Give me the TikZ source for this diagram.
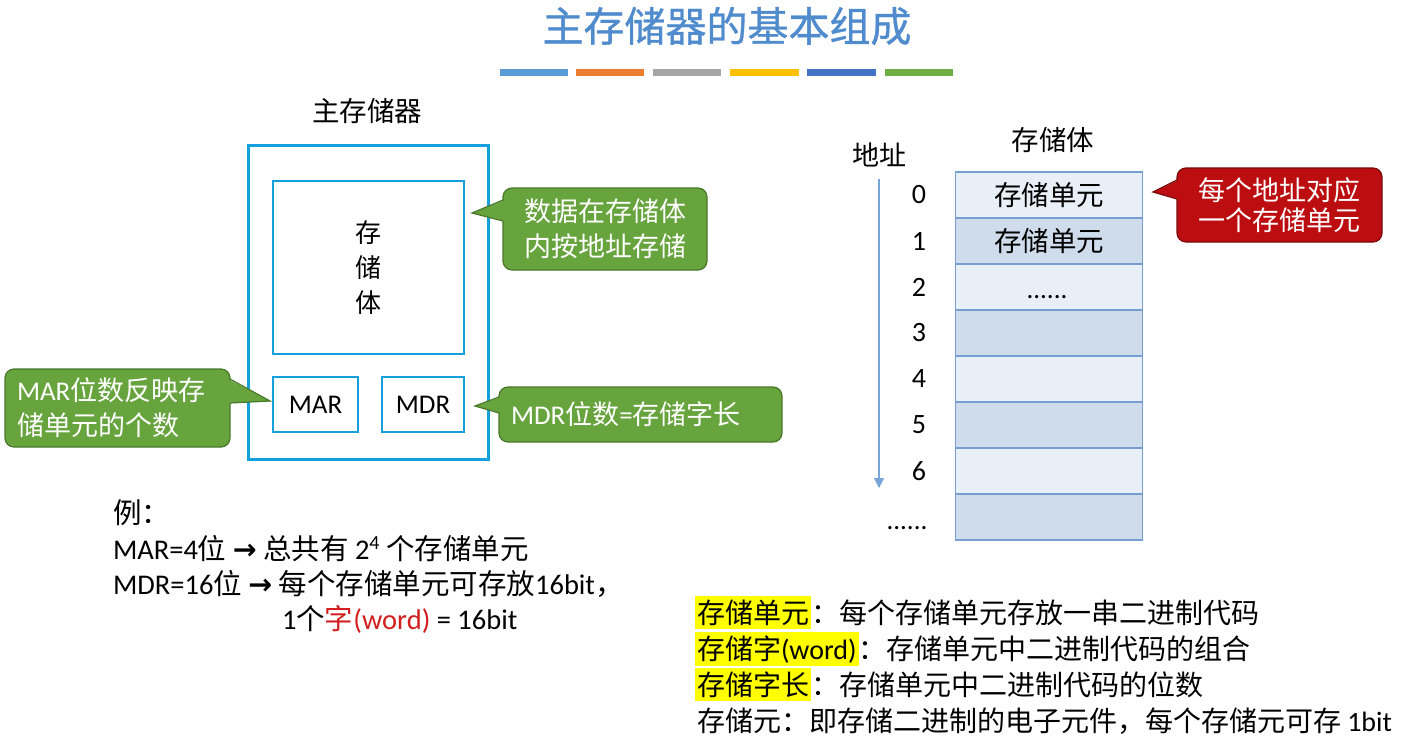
\documentclass[tikz,border=0pt]{standalone}
\usepackage{fontspec}
\setmainfont{Noto Sans CJK SC}
\newfontfamily\titlefont{Noto Sans CJK SC}[FakeBold=0.8]
\newfontfamily\lat{Carlito}
\newfontfamily\sym{DejaVu Sans}
\usetikzlibrary{arrows.meta}

\definecolor{titleblue}{RGB}{79,139,205}
\definecolor{boxblue}{RGB}{20,160,222}
\definecolor{callgreen}{RGB}{104,164,62}
\definecolor{callgreenline}{RGB}{72,120,42}
\definecolor{callred}{RGB}{188,14,16}
\definecolor{callredline}{RGB}{120,10,10}
\definecolor{cellline}{RGB}{118,158,210}
\definecolor{celllight}{RGB}{233,239,247}
\definecolor{celldark}{RGB}{207,220,236}
\definecolor{addrarrow}{RGB}{120,165,215}
\definecolor{hlyellow}{RGB}{255,255,0}
\definecolor{wordred}{RGB}{210,30,30}
\definecolor{barA}{RGB}{91,155,213}
\definecolor{barB}{RGB}{237,125,49}
\definecolor{barC}{RGB}{165,165,165}
\definecolor{barD}{RGB}{255,192,0}
\definecolor{barE}{RGB}{68,114,196}
\definecolor{barF}{RGB}{112,173,71}

\newcommand\fsz[1]{\fontsize{#1}{#1}\selectfont}

\tikzset{
  plain/.style={inner sep=0pt, outer sep=0pt},
  outerbox/.style={plain, draw=boxblue, line width=3pt},
  bluebox/.style={plain, draw=boxblue, line width=2.6pt},
  greencall/.style={plain, fill=callgreen, draw=callgreenline, line width=1.2pt,
    rounded corners=9pt, text=white, font=\fontsize{27}{35}\selectfont, align=center},
  redcall/.style={plain, fill=callred, draw=callredline, line width=1.2pt,
    rounded corners=9pt, text=white, font=\fontsize{27}{30}\selectfont, align=center},
  cell/.style={plain, draw=cellline, line width=1.5pt, minimum width=187pt,
    minimum height=46pt, font=\fsz{27.5}},
  addr/.style={plain, font=\lat\fsz{28}},
  body/.style={plain, anchor=base west, font=\fsz{28.5}},
  note/.style={plain, anchor=base west, font=\fsz{28}},
  hl/.style={note, fill=hlyellow, inner xsep=2pt, inner ysep=3.5pt},
}

\begin{document}
\begin{tikzpicture}[x=1pt,y=-1pt]
\useasboundingbox[fill=white] (0,0) rectangle (1408,737);

% heading and coloured rule
\node[plain, text=titleblue, font=\titlefont\fsz{41}] (title) at (727,26) {主存储器的基本组成};
\fill[barA] (500,68.5) rectangle (568,75.5);
\fill[barB] (576,68.5) rectangle (644,75.5);
\fill[barC] (653,68.5) rectangle (721,75.5);
\fill[barD] (730,68.5) rectangle (799,75.5);
\fill[barE] (807,68.5) rectangle (876,75.5);
\fill[barF] (885,68.5) rectangle (953,75.5);

% main memory block
\node[plain, font=\fsz{27.5}] (mmlabel) at (367,111) {主存储器};
\node[outerbox, minimum width=240pt, minimum height=314pt] (mm) at (368,302) {};
\node[bluebox, minimum width=191pt, minimum height=173pt] (bank) at (368.5,267.5) {};
\node[plain, font=\fontsize{26}{35}\selectfont, align=center] (banktext) at (368,268) {存\\储\\体};
\node[bluebox, minimum width=85pt, minimum height=55pt, font=\lat\fsz{27}] (mar) at (315.5,404.5) {MAR};
\node[bluebox, minimum width=82pt, minimum height=55pt, font=\lat\fsz{27}] (mdr) at (423,404.5) {MDR};

% callout: data stored by address
\node[greencall, minimum width=204pt, minimum height=82pt] (cdata) at (605,229) {数据在存储体\\内按地址存储};
\coordinate (cdatatip) at (472,213);
\fill[callgreen] (505,200) -- (cdatatip) -- (505,221) -- cycle;
\draw[callgreenline, line width=1.2pt, line join=miter] (503,200) -- (cdatatip) -- (503,221);

% callout: MAR width
\node[greencall, minimum width=225pt, minimum height=78pt, text width=201pt, align=left] (cmar) at (117.5,408) {{\lat MAR}位数反映存\\储单元的个数};
\coordinate (cmartip) at (270,401);
\fill[callgreen] (228,379) -- (cmartip) -- (228,403) -- cycle;
\draw[callgreenline, line width=1.2pt, line join=miter] (230,379) -- (cmartip) -- (230,403);

% callout: MDR width
\node[greencall, minimum width=283pt, minimum height=55pt, text width=259pt, align=left] (cmdr) at (640.5,414.5) {{\lat MDR}位数{\lat =}存储字长};
\coordinate (cmdrtip) at (475,406);
\fill[callgreen] (501,397) -- (cmdrtip) -- (501,413) -- cycle;
\draw[callgreenline, line width=1.2pt, line join=miter] (499,397) -- (cmdrtip) -- (499,413);

% memory bank with addresses
\node[plain, font=\fsz{27.5}] (banklabel) at (1053,140) {存储体};
\node[plain, font=\fsz{27}] (addrlabel) at (879,155) {地址};
\node[cell, fill=celllight] (r0) at (1049,195) {存储单元};
\node[cell, fill=celldark]  (r1) at (1049,241) {存储单元};
\node[cell, fill=celllight] (r2) at (1049,287) {};
\node[cell, fill=celldark]  (r3) at (1049,333) {};
\node[cell, fill=celllight] (r4) at (1049,379) {};
\node[cell, fill=celldark]  (r5) at (1049,425) {};
\node[cell, fill=celllight] (r6) at (1049,471) {};
\node[cell, fill=celldark]  (r7) at (1049,517) {};
\node[plain, anchor=base, font=\lat\fsz{27}] (r2dots) at (1047,298) {......};

\node[addr] (a0) at (919,195) {0};
\node[addr] (a1) at (919,241) {1};
\node[addr] (a2) at (919,287) {2};
\node[addr] (a3) at (919,333) {3};
\node[addr] (a4) at (919,379) {4};
\node[addr] (a5) at (919,425) {5};
\node[addr] (a6) at (919,471) {6};
\node[plain, anchor=base, font=\lat\fsz{27}] (a7) at (907,529) {......};

\coordinate (arrtop) at (879,179);
\coordinate (arrbot) at (879,488);
\draw[addrarrow, line width=1.3pt, -{Triangle[length=10pt,width=10pt]}] (arrtop) -- (arrbot);

% callout: one cell per address
\node[redcall, minimum width=205pt, minimum height=74pt] (cred) at (1279.5,205) {每个地址对应\\一个存储单元};
\coordinate (credtip) at (1153,192);
\fill[callred] (1179,180) -- (credtip) -- (1179,199) -- cycle;
\draw[callredline, line width=1.2pt, line join=miter] (1177,180) -- (credtip) -- (1177,199);

% worked example
\node[body] (ex0) at (113,523) {例：};
\node[body] (ex1) at (113,559) {{\lat MAR=4}位 {\sym\bfseries →} 总共有 {\lat 2\textsuperscript{4}} 个存储单元};
\node[body] (ex2) at (113,594) {{\lat MDR=16}位 {\sym\bfseries →} 每个存储单元可存放{\lat 16bit}，};
\node[body] (ex3) at (282,629) {{\lat 1}个\textcolor{wordred}{字{\lat (word)}} {\lat = 16bit}};

% definitions
\node[hl] (d1h) at (695,623) {存储单元};
\node[note] (d1t) at (d1h.base east) {：每个存储单元存放一串二进制代码};
\node[hl] (d2h) at (695,659) {存储字{\lat (word)}};
\node[note] (d2t) at (d2h.base east) {：存储单元中二进制代码的组合};
\node[hl] (d3h) at (695,695) {存储字长};
\node[note] (d3t) at (d3h.base east) {：存储单元中二进制代码的位数};
\node[note] (d4) at (697,731) {存储元：即存储二进制的电子元件，每个存储元可存 {\lat 1bit}};
\end{tikzpicture}
\end{document}
